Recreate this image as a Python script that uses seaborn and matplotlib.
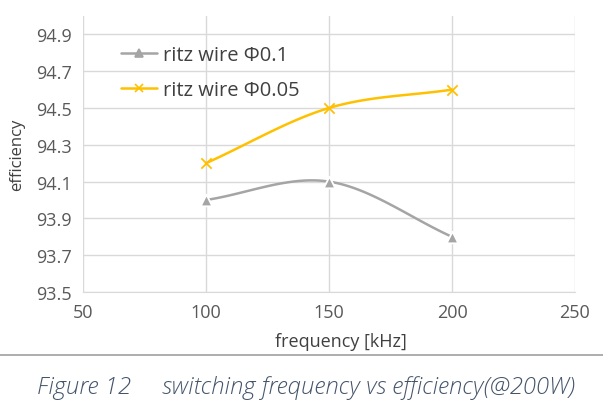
import numpy as np
import pandas as pd
import matplotlib
matplotlib.use('Agg')
import matplotlib.pyplot as plt
from matplotlib.lines import Line2D
import seaborn as sns

# data
frequency = [100, 150, 200]
eff_phi01 = [94.0, 94.1, 93.8]
eff_phi005 = [94.2, 94.5, 94.6]
series_names = ['ritz wire Φ0.1', 'ritz wire Φ0.05']
x_ticks = [50, 100, 150, 200, 250]
y_ticks = [93.5, 93.7, 93.9, 94.1, 94.3, 94.5, 94.7, 94.9]


def smooth(x, y, n=40):
    # Catmull-Rom style smoothing, similar to Excel's smoothed line
    x = np.asarray(x, float)
    y = np.asarray(y, float)
    px = np.concatenate([[2 * x[0] - x[1]], x, [2 * x[-1] - x[-2]]])
    py = np.concatenate([[2 * y[0] - y[1]], y, [2 * y[-1] - y[-2]]])
    xs, ys = [], []
    t = np.linspace(0, 1, n)
    for i in range(1, len(px) - 2):
        for p, out in ((px, xs), (py, ys)):
            p0, p1, p2, p3 = p[i - 1], p[i], p[i + 1], p[i + 2]
            m1 = (p2 - p0) / 2
            m2 = (p3 - p1) / 2
            h00 = 2 * t**3 - 3 * t**2 + 1
            h10 = t**3 - 2 * t**2 + t
            h01 = -2 * t**3 + 3 * t**2
            h11 = t**3 - t**2
            out.extend(h00 * p1 + h10 * m1 + h01 * p2 + h11 * m2)
    return np.array(xs), np.array(ys)


sns.set_style('white')
plt.rcParams['font.family'] = ['Open Sans', 'DejaVu Sans']

colors = ['#a5a5a5', '#ffc000']
markers = ['^', 'x']

fig = plt.figure(figsize=(6.03, 4.02), dpi=100)
ax = fig.add_axes([83 / 603, 1 - 293 / 402, 492 / 603, 276 / 402])

handles = []
for name, vals, c, m in zip(series_names, [eff_phi01, eff_phi005], colors, markers):
    sx, sy = smooth(frequency, vals)
    sns.lineplot(x=sx, y=sy, ax=ax, color=c, linewidth=1.8, sort=False)
    pts = pd.DataFrame({'f': frequency, 'e': vals})
    sns.scatterplot(data=pts, x='f', y='e', ax=ax, color=c, marker=m,
                    s=70 if m == '^' else 55, linewidth=1.3, zorder=5)
    handles.append(Line2D([], [], color=c, marker=m, markersize=6, linewidth=1.8,
                          markeredgewidth=1.2))

ax.set_xlim(50, 250)
ax.set_ylim(93.5, 95.0)
ax.set_xticks(x_ticks)
ax.set_yticks(y_ticks)
ax.set_yticklabels([f'{v:.1f}' for v in y_ticks])
ax.grid(True, color='#d9d9d9', linewidth=1)
for s in ['top', 'right', 'left']:
    ax.spines[s].set_visible(False)
ax.spines['bottom'].set_color('#d9d9d9')
ax.tick_params(axis='both', length=0, labelsize=13, colors='#595959', pad=8)
ax.set_xlabel('frequency [kHz]', fontsize=13, color='#404040')
ax.xaxis.set_label_coords(0.524, -0.145)
ax.set_ylabel('efficiency', fontsize=12, color='#404040', labelpad=8)

ax.legend(handles, series_names, loc='upper left', bbox_to_anchor=(0.04, 0.96),
          frameon=False, fontsize=14.5, handlelength=1.8, handletextpad=0.3,
          labelspacing=0.75, labelcolor='#404040')

fig.add_artist(Line2D([0, 1], [1 - 356 / 402] * 2, color='#a0a0a0', linewidth=1.2))
fig.text(0.508, 1 - 388 / 402, 'Figure 12     switching frequency vs efficiency(@200W)',
         ha='center', va='center', fontsize=17.2, style='italic',
         fontweight='light', color='#44546a')

fig.savefig('out.png', dpi=100)
